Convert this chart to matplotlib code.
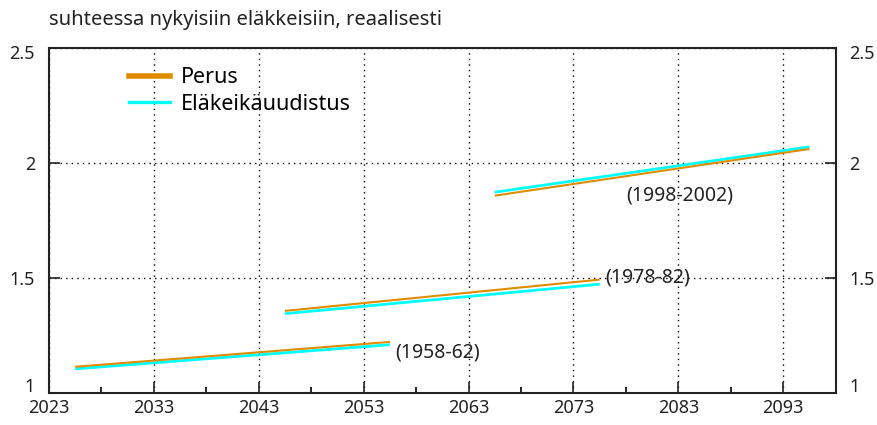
import matplotlib
matplotlib.use("Agg")
import matplotlib.pyplot as plt
from matplotlib.lines import Line2D
from matplotlib.transforms import ScaledTranslation

plt.rcParams['font.family'] = ['Noto Sans', 'DejaVu Sans']

# Cohort pension ratio paths (start and end of each 30-year span)
cohorts = ["(1958-62)", "(1978-82)", "(1998-2002)"]
years = [[2025.5, 2055.5], [2045.5, 2075.5], [2065.5, 2095.5]]
perus = [[1.114, 1.222], [1.357, 1.493], [1.858, 2.061]]
uudistus = [[1.105, 1.210], [1.345, 1.473], [1.873, 2.070]]
label_pos = [(2056.0, 1.178), (2076.0, 1.50), (2078.0, 1.86)]

yticks = [1, 1.5, 2, 2.5]
ytick_labels = ["1", "1.5", "2", "2.5"]
xticks = [2023, 2033, 2043, 2053, 2063, 2073, 2083, 2093]
xminor = [2028, 2038, 2048, 2058, 2068, 2078, 2088]

orange = "#E08C00"
cyan = "#00FFFF"
ink = "#222222"

fig = plt.figure(figsize=(8.77, 4.25), dpi=100)
ax = fig.add_axes([49 / 877, 32 / 425, (835.7 - 49) / 877, (393 - 48) / 425])

for yr, pu, uu in zip(years, perus, uudistus):
    ax.plot(yr, uu, color=cyan, lw=2.0, solid_capstyle="butt", zorder=3)
    ax.plot(yr, pu, color=orange, lw=1.5, solid_capstyle="butt", zorder=4)

for txt, (x, y) in zip(cohorts, label_pos):
    ax.text(x, y, txt, fontsize=14, ha="left", va="center", color=ink, zorder=5)

ax.set_xlim(2023, 2098)
ax.set_ylim(1, 2.5)
ax.set_xticks(xticks)
ax.set_xticks(xminor, minor=True)
ax.set_yticks(yticks)
ax.set_yticklabels(ytick_labels)

ax.tick_params(axis="both", which="major", direction="in", length=8, width=1.2,
               labelsize=13, right=True, labelright=True, top=False, colors=ink)
ax.tick_params(axis="x", which="minor", direction="in", length=4, width=1.2)
ax.tick_params(axis="y", which="major", pad=10)
ax.tick_params(axis="x", which="major", pad=4)

# nudge the end labels of the value axis inside the frame
for t in ax.yaxis.get_major_ticks():
    val = t.get_loc()
    if val == yticks[0]:
        dy = 8 / 100
    elif val == yticks[-1]:
        dy = -4 / 100
    else:
        continue
    for lab in (t.label1, t.label2):
        lab.set_transform(lab.get_transform() + ScaledTranslation(0, dy, fig.dpi_scale_trans))

ax.grid(True, which="major", color="black", lw=1.0, linestyle=(0, (1, 3)))

for s in ax.spines.values():
    s.set_linewidth(1.5)
    s.set_color(ink)

handles = [Line2D([0], [0], color=orange, lw=4.0),
           Line2D([0], [0], color=cyan, lw=2.4)]
ax.legend(handles, ["Perus", "Eläkeikäuudistus"], loc="upper left",
          bbox_to_anchor=(0.077, 1.0), frameon=False, fontsize=15.5,
          handlelength=1.9, handletextpad=0.5, labelspacing=0.25)

fig.text(49 / 877, 1 - 20 / 425, "suhteessa nykyisiin eläkkeisiin, reaalisesti",
         fontsize=14.5, ha="left", va="center", color=ink)

fig.savefig("out.png", dpi=100)
